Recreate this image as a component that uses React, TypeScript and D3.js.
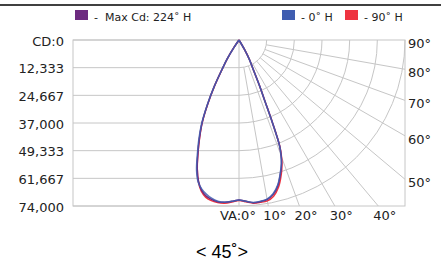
import * as d3 from "d3";

const W = 443;
const H = 266;

// photometric data: vertical angle (deg, negative = left half) vs candela
const angles = [-36, -34, -32, -30, -28, -26, -24, -22, -20, -18, -16, -14, -12, -10, -7.5, -5, -2.5, 0, 2.5, 5, 7.5, 10, 12.5, 15, 17.5, 19, 20, 21, 22, 23, 24, 26, 28, 30, 32];
const maxCdValues = [0, 4000, 10000, 15000, 23500, 32000, 40500, 47000, 53500, 60300, 65500, 69000, 71000, 72000, 72700, 72600, 72000, 71300, 72000, 72800, 72700, 72200, 70500, 67100, 61800, 58300, 55000, 50500, 40000, 29500, 23500, 14000, 10000, 5000, 0];
const h0Values = [0, 4200, 10200, 15200, 23800, 32400, 41000, 47800, 54300, 61200, 66000, 68500, 70200, 71500, 72500, 72600, 72000, 71300, 72000, 72700, 72500, 72000, 70200, 66800, 61500, 58000, 54800, 50300, 39800, 29300, 23300, 13900, 9900, 4900, 0];
const h90Values = [0, 4000, 9900, 14800, 23300, 31800, 40300, 46800, 53400, 60200, 65700, 69500, 71600, 72600, 73100, 73000, 72300, 71500, 72200, 73000, 73000, 72800, 71300, 68000, 62700, 58800, 55400, 50700, 40100, 29600, 23500, 14000, 10000, 5000, 0];

const cdTicks = [0, 12333, 24667, 37000, 49333, 61667, 74000];
const cdLabels = ["CD:0", "12,333", "24,667", "37,000", "49,333", "61,667", "74,000"];
const bottomAngles = [0, 10, 20, 30, 40];
const sideAngles = [90, 80, 70, 60, 50];
const gridAngles = [10, 20, 30, 40, 50, 60, 70, 80];

const series = [
  { name: "- 90˚ H", values: h90Values, color: "#ee3340" },
  { name: "-  Max Cd: 224˚ H", values: maxCdValues, color: "#6d2b80" },
  { name: "- 0˚ H", values: h0Values, color: "#3f5db0" },
];

const CX = 239;
const CY = 40;
const R = 166;
const GRID = "#c6c6c6";
const FONT = "DejaVu Sans, Verdana, sans-serif";

const rad = (d: number) => (d * Math.PI) / 180;

// where a ray at angle a (from straight down) leaves the frame
const edgePoint = (a: number) => {
  const t = rad(a);
  if (a <= 45) return [CX + R * Math.tan(t), CY + R];
  return [CX + R, CY + R / Math.tan(t)];
};

const App = () => {
  const rScale = d3.scaleLinear().domain([0, 74000]).range([0, R]);
  const yScale = d3.scaleLinear().domain([0, 74000]).range([CY, CY + R]);
  const r1 = rScale(cdTicks[1]);

  const line = d3
    .lineRadial<number>()
    .angle((_, i) => Math.PI - rad(angles[i]))
    .radius((d) => rScale(d))
    .curve(d3.curveCatmullRom.alpha(0.5));

  const arcs = cdTicks.slice(1).map((t, i) => {
    const p = d3.path();
    const r = rScale(t);
    p.moveTo(CX, CY + r);
    p.arc(CX, CY, r, Math.PI / 2, 0, true);
    return <path key={i} d={p.toString()} fill="none" stroke={GRID} strokeWidth={1} />;
  });

  const spokes = gridAngles.map((a) => {
    const t = rad(a);
    const [x2, y2] = edgePoint(a);
    return (
      <line key={a} x1={CX + r1 * Math.sin(t)} y1={CY + r1 * Math.cos(t)} x2={x2} y2={y2} stroke={GRID} strokeWidth={1} />
    );
  });

  const legend = [
    { s: series[1], x: 75 },
    { s: series[2], x: 282 },
    { s: series[0], x: 345 },
  ];

  return (
    <svg width={W} height={H} style={{ position: "absolute", left: 0, top: 0, background: "#fff" }}>
      <line x1={0} x2={441} y1={5} y2={5} stroke="#000" strokeWidth={1.5} />

      {legend.map(({ s, x }) => (
        <g key={s.name}>
          <rect x={x} y={10} width={13} height={10} fill={s.color} />
          <text x={x + 19} y={20.5} fontFamily={FONT} fontSize={11} fill="#222" style={{ whiteSpace: "pre" }}>
            {s.name}
          </text>
        </g>
      ))}

      {cdTicks.map((t) => (
        <line key={t} x1={CX - R} x2={CX} y1={yScale(t)} y2={yScale(t)} stroke={GRID} strokeWidth={1} />
      ))}
      {arcs}
      {spokes}
      <line x1={CX} x2={CX} y1={CY} y2={CY + R} stroke={GRID} strokeWidth={1} />
      <rect x={CX - R} y={CY} width={2 * R} height={R} fill="none" stroke={GRID} strokeWidth={1} />

      {cdTicks.map((t, i) => (
        <text key={t} x={CX - R - 9} y={yScale(t) + 5.5} textAnchor="end" fontFamily={FONT} fontSize={13} fill="#222">
          {cdLabels[i]}
        </text>
      ))}

      {sideAngles.map((a) => (
        <text key={a} x={CX + R + 3} y={edgePoint(a)[1] + 8} fontFamily={FONT} fontSize={13} fill="#222">
          {a}°
        </text>
      ))}

      {bottomAngles.map((a) => (
        <text
          key={a}
          x={a === 0 ? CX - 19 : edgePoint(a)[0] - 5}
          y={CY + R + 14}
          fontFamily={FONT}
          fontSize={13}
          fill="#222"
        >
          {a === 0 ? "VA:0°" : `${a}°`}
        </text>
      ))}

      <g transform={`translate(${CX},${CY})`}>
        {series.map((s) => (
          <path
            key={s.name}
            d={line(s.values) || ""}
            fill="none"
            stroke={s.color}
            strokeWidth={1.5}
            strokeOpacity={s.color === "#3f5db0" ? 0.85 : 1}
          />
        ))}
      </g>

      <text x={222} y={258} textAnchor="middle" fontFamily="Liberation Sans, Arial, sans-serif" fontSize={18} fill="#000">
        {"< 45˚>"}
      </text>
    </svg>
  );
};

export default App;
